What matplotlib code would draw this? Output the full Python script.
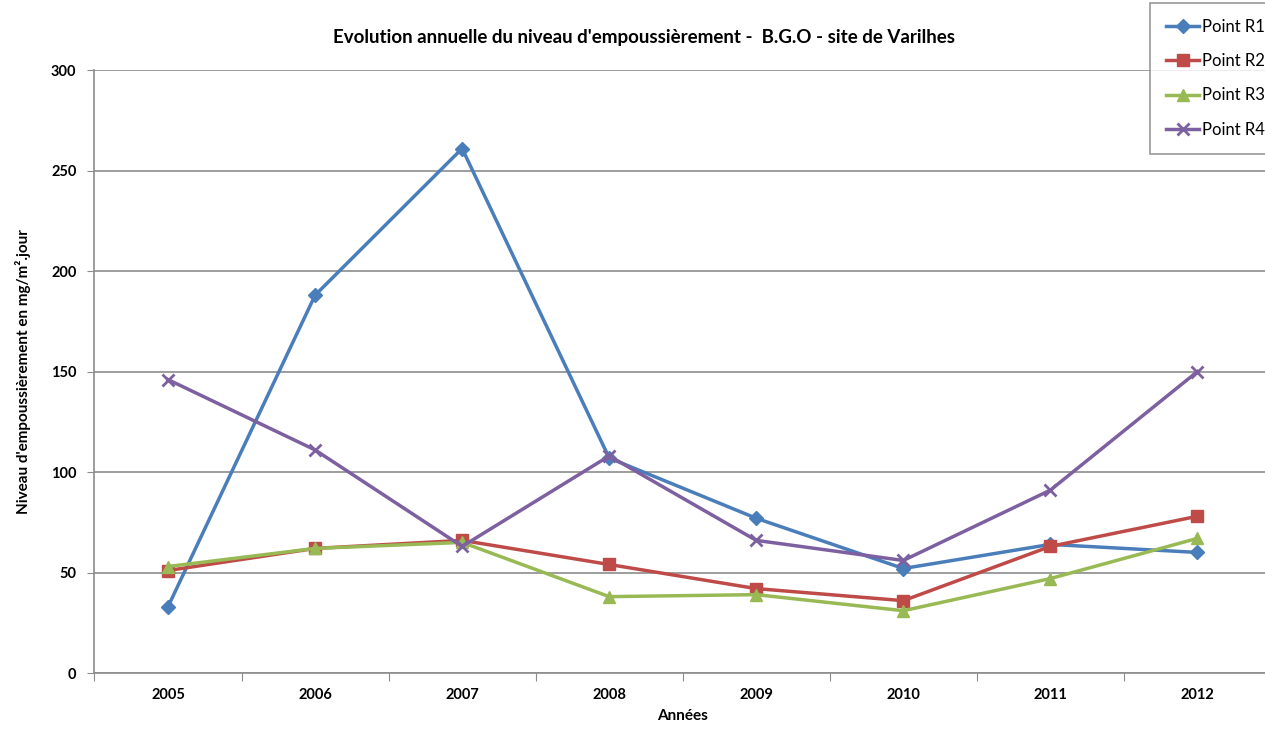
import numpy as np
import matplotlib.pyplot as plt

# valeurs
annees = ['2005', '2006', '2007', '2008', '2009', '2010', '2011', '2012']
r1 = [33, 188, 261, 107, 77, 52, 64, 60]
r2 = [51, 62, 66, 54, 42, 36, 63, 78]
r3 = [53, 62, 65, 38, 39, 31, 47, 67]
r4 = [146, 111, 63, 108, 66, 56, 91, 150]

series = [('Point R1', r1, '#4A7EBB', 'D', 7, 1),
          ('Point R2', r2, '#BE4B48', 's', 8, 1),
          ('Point R3', r3, '#98B954', '^', 8, 1),
          ('Point R4', r4, '#7D60A0', 'x', 9, 2)]

plt.rcParams['font.family'] = ['Lato', 'DejaVu Sans']

fig = plt.figure(figsize=(12.65, 7.29), dpi=100)
ax = fig.add_axes([0.0747, 0.0768, 0.930, 0.827])

x = np.arange(len(annees))
for nom, vals, col, mk, ms, mew in series:
    ax.plot(x, vals, color=col, lw=2.5, marker=mk, markersize=ms,
            markeredgewidth=mew, markerfacecolor=col, markeredgecolor=col,
            label=nom, zorder=3)

ax.set_xlim(-0.5, len(annees) - 0.5)
ax.set_ylim(0, 300)
ax.set_yticks(np.arange(0, 301, 50))
ax.yaxis.grid(True, color='#8c8c8c', lw=1.2)
ax.set_axisbelow(True)

# ticks between categories, labels in the middle
ax.set_xticks(np.arange(-0.5, len(annees), 1))
ax.set_xticklabels([])
ax.set_xticks(x, minor=True)
ax.set_xticklabels(annees, minor=True, fontsize=10.5, fontweight='bold')
ax.tick_params(axis='x', which='major', direction='out', length=6, color='#8c8c8c')
ax.tick_params(axis='x', which='minor', length=0, pad=11)
ax.tick_params(axis='y', direction='out', length=5, color='#8c8c8c', labelsize=10.5, pad=8)
for lab in ax.get_yticklabels():
    lab.set_fontweight('bold')

for s in ['top', 'right']:
    ax.spines[s].set_visible(False)
for s in ['left', 'bottom']:
    ax.spines[s].set_color('#8c8c8c')
    ax.spines[s].set_linewidth(1.2)

ax.set_xlabel('Années', fontsize=11, fontweight='bold', labelpad=5)
ax.set_ylabel("Niveau d'empoussièrement en mg/m².jour", fontsize=11, fontweight='bold', labelpad=14)

fig.text(0.509, 0.949, "Evolution annuelle du niveau d'empoussièrement -  B.G.O - site de Varilhes",
         ha='center', va='center', fontsize=13.5, fontweight='bold')

leg = ax.legend(loc='upper left', bbox_to_anchor=(1150 / 1265, 1 - 3 / 729),
                bbox_transform=fig.transFigure, fontsize=12, frameon=True,
                fancybox=False, edgecolor='#7f7f7f', handlelength=2.0,
                handletextpad=0.2, labelspacing=1.1, borderpad=0.95,
                borderaxespad=0)
leg.get_frame().set_linewidth(1.2)

fig.savefig('out.png', dpi=100)
